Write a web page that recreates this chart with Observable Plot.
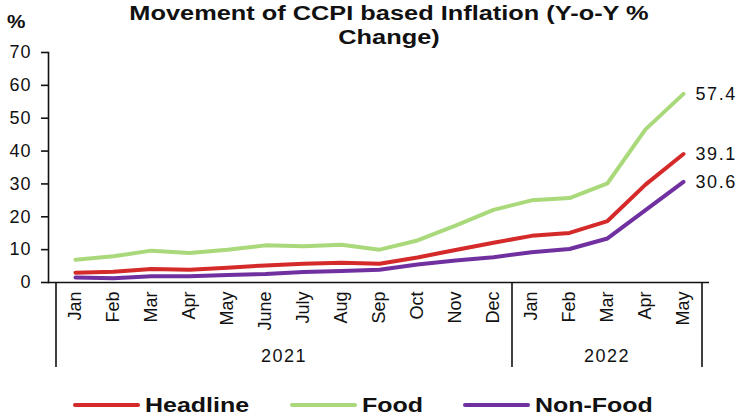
<!DOCTYPE html>
<html>
<head>
<meta charset="utf-8">
<script src="https://cdn.jsdelivr.net/npm/d3@7"></script>
<script src="https://cdn.jsdelivr.net/npm/@observablehq/plot@0.6"></script>
<style>
  html, body { margin: 0; padding: 0; background: #fff; }
  #wrap { position: relative; width: 751px; height: 419px; font-family: "Liberation Sans", Arial, sans-serif; color: #111; overflow: hidden; }
  #title { position: absolute; top: 2px; left: 0; width: 778px; text-align: center; font-weight: bold; font-size: 19.5px; line-height: 23.5px; transform: scaleX(1.3); transform-origin: 389px 0; }
  #unit { position: absolute; top: 12px; left: 7px; font-weight: bold; font-size: 18px; transform: scaleX(1.15); transform-origin: 0 0; }
  #chart { position: absolute; top: 0; left: 0; }
  #chart g[aria-label="y-axis tick label"] text { letter-spacing: 1px; }
  #chart g[aria-label="text"] text { letter-spacing: 1.6px; }
  .leg { position: absolute; top: 394px; height: 22px; display: flex; align-items: center; }
  .sw { width: 67px; height: 4px; border-radius: 2px; margin-right: 5px; }
  .lt { font-weight: bold; font-size: 19.5px; transform: scaleX(1.28); transform-origin: 0 50%; white-space: nowrap; }
</style>
</head>
<body>
<div id="wrap">
  <div id="chart"></div>
  <div id="title">Movement of CCPI based Inflation (Y-o-Y %<br>Change)</div>
  <div id="unit">%</div>
  <div id="legend"></div>
</div>
<script>
const months = ["Jan","Feb","Mar","Apr","May","June","July","Aug","Sep","Oct","Nov","Dec","Jan","Feb","Mar","Apr","May"];
const years = [2021,2021,2021,2021,2021,2021,2021,2021,2021,2021,2021,2021,2022,2022,2022,2022,2022];
const headline = [3.0,3.3,4.1,3.9,4.5,5.2,5.7,6.0,5.7,7.6,9.9,12.1,14.2,15.1,18.7,29.8,39.1];
const food = [6.9,8.0,9.7,9.0,10.0,11.3,11.0,11.5,10.0,12.8,17.3,22.1,25.0,25.7,30.2,46.6,57.4];
const nonFood = [1.5,1.3,1.9,1.9,2.3,2.6,3.2,3.5,3.9,5.5,6.7,7.7,9.2,10.2,13.4,22.0,30.6];
const seriesNames = ["Headline","Food","Non-Food"];
const seriesColors = ["#d42a2a","#a9d97a","#7030a0"];
const yTicks = [0,10,20,30,40,50,60,70];

const keys = months.map((m, i) => `${m} ${years[i]}`);
const seriesValues = [headline, food, nonFood];
const data = [];
seriesNames.forEach((s, si) => {
  seriesValues[si].forEach((v, i) => data.push({series: s, key: keys[i], value: v, last: i === keys.length - 1}));
});
const drawOrder = ["Food", "Headline", "Non-Food"];
const ordered = drawOrder.flatMap(s => data.filter(d => d.series === s));

// year group separators and labels, placed through the x scale
function yearGroups(index, scales, values, dims) {
  const x = scales.x;
  const bw = x.bandwidth ? x.bandwidth() : (x(keys[1]) - x(keys[0]));
  const g = d3.create("svg:g");
  const y0 = dims.height - dims.marginBottom;
  const uniq = [...new Set(years)];
  const bounds = new Set();
  uniq.forEach(yr => {
    const ks = keys.filter((k, i) => years[i] === yr);
    const a = x(ks[0]), b = x(ks[ks.length - 1]) + bw;
    bounds.add(a); bounds.add(b);
    g.append("text")
      .attr("x", (a + b) / 2)
      .attr("y", y0 + 74)
      .attr("dy", "0.35em")
      .attr("text-anchor", "middle")
      .attr("font-size", 18)
      .attr("letter-spacing", 1.5)
      .attr("fill", "#111")
      .text(yr);
  });
  [...bounds].forEach(bx => {
    g.append("line")
      .attr("x1", bx).attr("x2", bx)
      .attr("y1", y0).attr("y2", y0 + 85)
      .attr("stroke", "#111").attr("stroke-width", 1.6);
  });
  return g.node();
}

const chart = Plot.plot({
  width: 751,
  height: 380,
  marginLeft: 48,
  marginRight: 42,
  marginTop: 52,
  marginBottom: 98,
  style: {fontFamily: "Liberation Sans, Arial, sans-serif", background: "transparent", color: "#111"},
  x: {type: "band", domain: keys, padding: 0},
  y: {domain: [0, 70]},
  color: {domain: seriesNames, range: seriesColors},
  marks: [
    Plot.axisY({ticks: yTicks, tickSize: 7, tickPadding: 10, fontSize: 18, label: null, stroke: "#111", strokeWidth: 1.6}),
    Plot.axisX({tickRotate: -90, tickSize: 0, tickPadding: 9, fontSize: 18, label: null, tickFormat: k => k.split(" ")[0]}),
    Plot.frame({anchor: "left", stroke: "#111", strokeWidth: 1.6}),
    Plot.ruleY([0], {stroke: "#111", strokeWidth: 1.6}),
    Plot.line(ordered, {x: "key", y: "value", z: "series", stroke: "series", strokeWidth: 4}),
    Plot.text(data.filter(d => d.last), {x: "key", y: "value", text: d => d.value.toFixed(1), textAnchor: "start", dx: 12, fontSize: 18, fill: "#111"}),
    yearGroups
  ]
});
document.getElementById("chart").appendChild(chart);

const legendLefts = [73, 290, 463];
const legend = document.getElementById("legend");
seriesNames.forEach((s, i) => {
  const item = document.createElement("div");
  item.className = "leg";
  item.style.left = legendLefts[i] + "px";
  item.innerHTML = `<div class="sw" style="background:${seriesColors[i]}"></div><div class="lt">${s}</div>`;
  legend.appendChild(item);
});
</script>
</body>
</html>
